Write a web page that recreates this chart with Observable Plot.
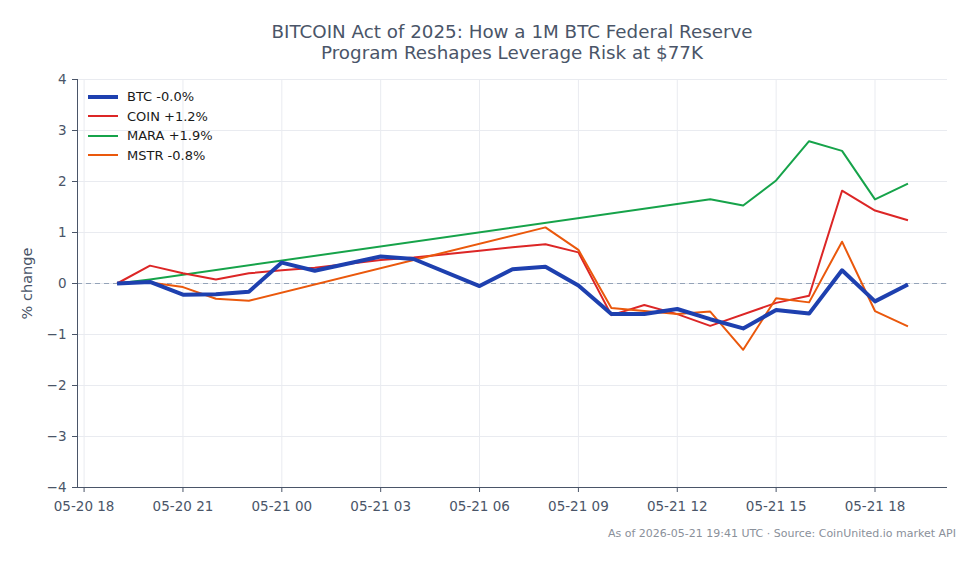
<!DOCTYPE html>
<html>
<head>
<meta charset="utf-8">
<script src="https://cdn.jsdelivr.net/npm/d3@7"></script>
<script src="https://cdn.jsdelivr.net/npm/@observablehq/plot@0.6"></script>
<style>
  html, body { margin: 0; padding: 0; background: #fff; }
  body { width: 979px; height: 564px; position: relative; overflow: hidden; font-family: "DejaVu Sans", sans-serif; }
  #title { position: absolute; left: 77px; width: 870px; top: 21px; text-align: center; font-size: 18.3px; line-height: 21px; color: #4a5568; }
  #chart { position: absolute; left: 0; top: 70px; }
  #legend { position: absolute; left: 88px; top: 87px; font-size: 13px; color: #1a1a1a; }
  #legend .row { height: 19.5px; display: flex; align-items: center; }
  #legend .sw { width: 30px; margin-right: 9px; }
  #caption { position: absolute; right: 23px; top: 527px; font-size: 11px; color: #8a909a; }
</style>
</head>
<body>
<div id="title">BITCOIN Act of 2025: How a 1M BTC Federal Reserve<br>Program Reshapes Leverage Risk at $77K</div>
<div id="chart"></div>
<div id="legend"></div>
<div id="caption">As of 2026-05-21 19:41 UTC · Source: CoinUnited.io market API</div>
<script>
// ---- data (hour stamps in UTC, values in % change) ----
const seriesNames = ["BTC", "COIN", "MARA", "MSTR"];
const seriesLabels = ["BTC -0.0%", "COIN +1.2%", "MARA +1.9%", "MSTR -0.8%"];

const btcTimes = ["2026-05-20T19","2026-05-20T20","2026-05-20T21","2026-05-20T22","2026-05-20T23","2026-05-21T00","2026-05-21T01","2026-05-21T03","2026-05-21T04","2026-05-21T06","2026-05-21T07","2026-05-21T08","2026-05-21T09","2026-05-21T10","2026-05-21T11","2026-05-21T12","2026-05-21T13","2026-05-21T14","2026-05-21T15","2026-05-21T16","2026-05-21T17","2026-05-21T18","2026-05-21T19"];
const btcValues = [0.00, 0.03, -0.22, -0.21, -0.16, 0.41, 0.25, 0.53, 0.48, -0.05, 0.28, 0.33, -0.04, -0.60, -0.60, -0.50, -0.70, -0.88, -0.52, -0.59, 0.26, -0.35, -0.02];

const coinTimes = ["2026-05-20T19","2026-05-20T20","2026-05-20T21","2026-05-20T22","2026-05-20T23","2026-05-21T00","2026-05-21T01","2026-05-21T03","2026-05-21T04","2026-05-21T06","2026-05-21T07","2026-05-21T08","2026-05-21T09","2026-05-21T10","2026-05-21T11","2026-05-21T12","2026-05-21T13","2026-05-21T15","2026-05-21T16","2026-05-21T17","2026-05-21T18","2026-05-21T19"];
const coinValues = [0.00, 0.35, 0.20, 0.08, 0.20, 0.26, 0.31, 0.46, 0.51, 0.64, 0.71, 0.77, 0.61, -0.62, -0.42, -0.60, -0.83, -0.38, -0.24, 1.82, 1.43, 1.24];

const maraTimes = ["2026-05-20T19","2026-05-20T20","2026-05-21T13","2026-05-21T14","2026-05-21T15","2026-05-21T16","2026-05-21T17","2026-05-21T18","2026-05-21T19"];
const maraValues = [0.00, 0.08, 1.65, 1.53, 2.02, 2.79, 2.60, 1.65, 1.96];

const mstrTimes = ["2026-05-20T19","2026-05-20T20","2026-05-20T21","2026-05-20T22","2026-05-20T23","2026-05-21T08","2026-05-21T09","2026-05-21T10","2026-05-21T11","2026-05-21T12","2026-05-21T13","2026-05-21T14","2026-05-21T15","2026-05-21T16","2026-05-21T17","2026-05-21T18","2026-05-21T19"];
const mstrValues = [0.00, 0.02, -0.07, -0.30, -0.34, 1.10, 0.66, -0.48, -0.54, -0.60, -0.55, -1.30, -0.29, -0.37, 0.82, -0.54, -0.84];

const yTicks = [-4, -3, -2, -1, 0, 1, 2, 3, 4];
const xStart = "2026-05-20T17:48";
const xEnd = "2026-05-21T20:12";

// ---- styles ----
const colors = { BTC: "#1e40af", COIN: "#dc2626", MARA: "#16a34a", MSTR: "#ea580c" };
const widths = { BTC: 4, COIN: 2, MARA: 2, MSTR: 2 };

const parse = s => new Date(s.length === 13 ? s + ":00:00Z" : s + ":00Z");
const raw = {
  BTC: [btcTimes, btcValues],
  COIN: [coinTimes, coinValues],
  MARA: [maraTimes, maraValues],
  MSTR: [mstrTimes, mstrValues]
};
const table = {};
for (const name of seriesNames) {
  const [ts, vs] = raw[name];
  table[name] = ts.map((t, i) => ({ t: parse(t), v: vs[i] }));
}
const xDomain = [parse(xStart), parse(xEnd)];
const axisColor = "#4a5568";
const gridColor = "#e9ebf0";

const drawOrder = ["MARA", "COIN", "MSTR", "BTC"];

const chart = Plot.plot({
  width: 979,
  height: 450,
  marginLeft: 77,
  marginRight: 32,
  marginTop: 9,
  marginBottom: 33,
  style: { fontFamily: "DejaVu Sans, sans-serif", fontSize: "13.5px", color: axisColor, background: "transparent", overflow: "visible" },
  x: { type: "utc", domain: xDomain },
  y: { domain: [-4, 4] },
  marks: [
    Plot.gridX({ ticks: d3.utcHour.every(3), stroke: gridColor, strokeOpacity: 1 }),
    Plot.gridY(yTicks, { stroke: gridColor, strokeOpacity: 1 }),
    Plot.ruleY([0], { stroke: "#94a3b8", strokeWidth: 1.1, strokeDasharray: "5,4" }),
    ...drawOrder.map(name => Plot.line(table[name], {
      x: "t", y: "v", stroke: colors[name], strokeWidth: widths[name], strokeLinejoin: "round", strokeLinecap: "butt"
    })),
    Plot.ruleY([-4], { stroke: axisColor, strokeWidth: 1 }),
    Plot.ruleX([xDomain[0]], { stroke: axisColor, strokeWidth: 1 }),
    Plot.axisX({ ticks: d3.utcHour.every(3), tickFormat: d3.utcFormat("%m-%d %H"), label: null, tickSize: 5, tickPadding: 9, stroke: axisColor, color: axisColor, fontSize: 13.5 }),
    Plot.axisY(yTicks, { tickFormat: d3.format("~g"), label: null, tickSize: 5, tickPadding: 6, fontSize: 13.5, color: axisColor }),
    Plot.axisY({ ticks: [], tickSize: 0, label: "% change", labelAnchor: "center", labelArrow: "none", labelOffset: 56, fontSize: 14.5, color: axisColor })
  ]
});
document.getElementById("chart").appendChild(chart);

// legend
const legend = document.getElementById("legend");
seriesNames.forEach((name, i) => {
  const row = document.createElement("div");
  row.className = "row";
  const sw = document.createElement("div");
  sw.className = "sw";
  sw.style.height = widths[name] + "px";
  sw.style.background = colors[name];
  const lab = document.createElement("span");
  lab.textContent = seriesLabels[i];
  row.appendChild(sw);
  row.appendChild(lab);
  legend.appendChild(row);
});
</script>
</body>
</html>
